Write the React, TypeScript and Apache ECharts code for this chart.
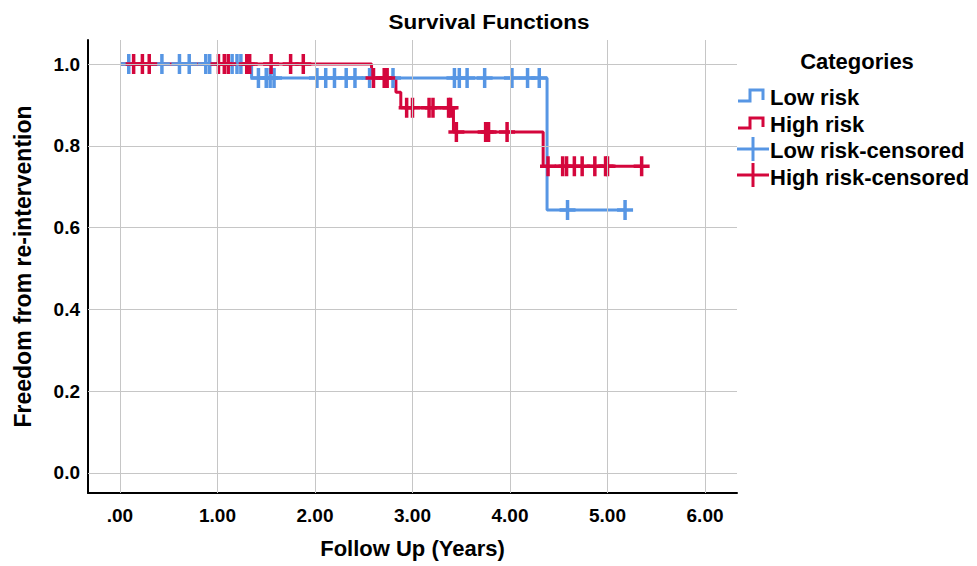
import React, { useEffect, useRef } from "react";
import * as echarts from "echarts";

// Kaplan-Meier step curves (time in years, cumulative survival)
const lowTimes = [0, 1.35, 4.38, 5.18];
const lowSurv = [1.0, 0.966, 0.643, 0.643];
const highTimes = [0, 2.58, 2.83, 2.88, 3.42, 4.34, 5.35];
const highSurv = [1.0, 0.966, 0.931, 0.893, 0.834, 0.75, 0.75];

// Censored observations (time in years)
const lowCensored = [
  0.09, 0.43, 0.61, 0.71, 0.88, 0.92, 1.15, 1.2, 1.24, 1.42, 1.5, 1.54, 1.58,
  2.02, 2.11, 2.2, 2.32, 2.41, 2.56, 2.8, 3.43, 3.48, 3.56, 3.74, 4.02, 4.18,
  4.3, 4.59, 5.18,
];
const highCensored = [
  0.14, 0.23, 0.3, 1.01, 1.07, 1.11, 1.3, 1.33, 1.55, 1.75, 1.88, 2.6, 2.71,
  2.74, 2.94, 3.0, 3.17, 3.21, 3.37, 3.39, 3.45, 3.75, 3.78, 3.97, 4.39, 4.54,
  4.58, 4.66, 4.74, 4.87, 4.98, 5.0, 5.35,
];

const xTicks = [0, 1, 2, 3, 4, 5, 6];
const yTicks = [0, 0.2, 0.4, 0.6, 0.8, 1.0];

const seriesNames = ["Low risk", "High risk", "Low risk-censored", "High risk-censored"];

const BLUE = "#5796E4";
const RED = "#D4063C";
const FONT = "'Liberation Sans', Arial, sans-serif";

function stepValue(times: number[], surv: number[], t: number) {
  let v = surv[0];
  for (let i = 0; i < times.length; i++) {
    if (times[i] <= t) v = surv[i];
  }
  return v;
}

const PLUS =
  "path://M6.25,0 H9.75 V8.25 H16 V11.75 H9.75 V20 H6.25 V11.75 H0 V8.25 H6.25 Z";

export default function App() {
  const ref = useRef<HTMLDivElement>(null);
  useEffect(() => {
    if (!ref.current) return;
    const chart = echarts.init(ref.current, undefined, { renderer: "svg" });
    const labelStyle = { fontFamily: FONT, fontWeight: "bold" as const, color: "#000" };
    chart.setOption({
      animation: false,
      backgroundColor: "#fff",
      grid: { left: 88, right: 240, top: 40, bottom: 73, containLabel: false },
      xAxis: {
        type: "value",
        min: -0.328,
        max: 6.328,
        name: "Follow Up (Years)",
        nameLocation: "middle",
        nameGap: 44,
        nameTextStyle: { ...labelStyle, fontSize: 22 },
        axisLine: { show: true, onZero: false, lineStyle: { color: "#000", width: 2 } },
        axisTick: { show: false, customValues: xTicks },
        splitLine: { show: false },
        axisLabel: {
          ...labelStyle,
          fontSize: 19,
          margin: 13,
          customValues: xTicks,
          formatter: (v: number) => (v === 0 ? ".00" : v.toFixed(2)),
        },
      },
      yAxis: {
        type: "value",
        min: -0.049,
        max: 1.059,
        name: "Freedom from re-intervention",
        nameLocation: "middle",
        nameGap: 54,
        nameTextStyle: { ...labelStyle, fontSize: 23 },
        axisLine: { show: true, onZero: false, lineStyle: { color: "#000", width: 2 } },
        axisTick: { show: false, customValues: yTicks },
        splitLine: { show: false },
        axisLabel: {
          ...labelStyle,
          fontSize: 19,
          margin: 8,
          customValues: yTicks,
          formatter: (v: number) => v.toFixed(1),
        },
      },
      graphic: [
        {
          type: "text",
          x: 489,
          y: 22,
          scaleX: 1.07,
          style: {
            text: "Survival Functions",
            font: `bold 21px ${FONT}`,
            fill: "#000",
            align: "center",
            verticalAlign: "middle",
          },
        },
        {
          type: "text",
          x: 857,
          y: 61,
          style: {
            text: "Categories",
            font: `bold 22px ${FONT}`,
            fill: "#000",
            align: "center",
            verticalAlign: "middle",
          },
        },
        {
          type: "polyline",
          shape: { points: [[738, 101], [750, 101], [750, 90], [763, 90], [763, 100]] },
          style: { stroke: BLUE, lineWidth: 3, fill: "none" },
        },
        {
          type: "polyline",
          shape: { points: [[738, 128], [750, 128], [750, 118], [763, 118], [763, 127]] },
          style: { stroke: RED, lineWidth: 3, fill: "none" },
        },
        {
          type: "line",
          shape: { x1: 737, y1: 149, x2: 769, y2: 149 },
          style: { stroke: BLUE, lineWidth: 3 },
        },
        {
          type: "line",
          shape: { x1: 753, y1: 137, x2: 753, y2: 161 },
          style: { stroke: BLUE, lineWidth: 3 },
        },
        {
          type: "line",
          shape: { x1: 737, y1: 175, x2: 769, y2: 175 },
          style: { stroke: RED, lineWidth: 3 },
        },
        {
          type: "line",
          shape: { x1: 753, y1: 163, x2: 753, y2: 187 },
          style: { stroke: RED, lineWidth: 3 },
        },
        ...seriesNames.map((n, i) => ({
          type: "text",
          x: 770,
          y: [97, 124, 150, 177][i],
          style: {
            text: n,
            font: `bold 22px ${FONT}`,
            fill: "#000",
            verticalAlign: "middle",
          },
        })),
      ],
      series: [
        {
          type: "line",
          name: "grid",
          data: [],
          silent: true,
          z: 1,
          markLine: {
            silent: true,
            symbol: "none",
            animation: false,
            label: { show: false },
            emphasis: { disabled: true },
            lineStyle: { color: "#C6C6C6", width: 1, type: "solid" },
            data: [
              ...xTicks.map((v) => ({ xAxis: v })),
              ...yTicks.map((v) => ({ yAxis: v })),
            ],
          },
        },
        {
          type: "line",
          name: seriesNames[0],
          step: "end",
          showSymbol: false,
          z: 3,
          lineStyle: { color: BLUE, width: 3 },
          itemStyle: { color: BLUE },
          data: lowTimes.map((t, i) => [t, lowSurv[i]]),
        },
        {
          type: "line",
          name: seriesNames[1],
          step: "end",
          showSymbol: false,
          z: 3,
          lineStyle: { color: RED, width: 3 },
          itemStyle: { color: RED },
          data: highTimes.map((t, i) => [t, highSurv[i]]),
        },
        {
          type: "scatter",
          name: seriesNames[2],
          symbol: PLUS,
          symbolSize: [16, 20],
          symbolKeepAspect: false,
          z: 4,
          itemStyle: { color: BLUE, opacity: 1 },
          data: lowCensored.map((t) => [t, stepValue(lowTimes, lowSurv, t)]),
        },
        {
          type: "scatter",
          name: seriesNames[3],
          symbol: PLUS,
          symbolSize: [16, 20],
          symbolKeepAspect: false,
          z: 4,
          itemStyle: { color: RED, opacity: 1 },
          data: highCensored.map((t) => [t, stepValue(highTimes, highSurv, t)]),
        },
      ],
    });
    return () => chart.dispose();
  }, []);
  return (
    <div
      ref={ref}
      style={{ position: "absolute", left: 0, top: 0, width: 977, height: 566 }}
    />
  );
}
